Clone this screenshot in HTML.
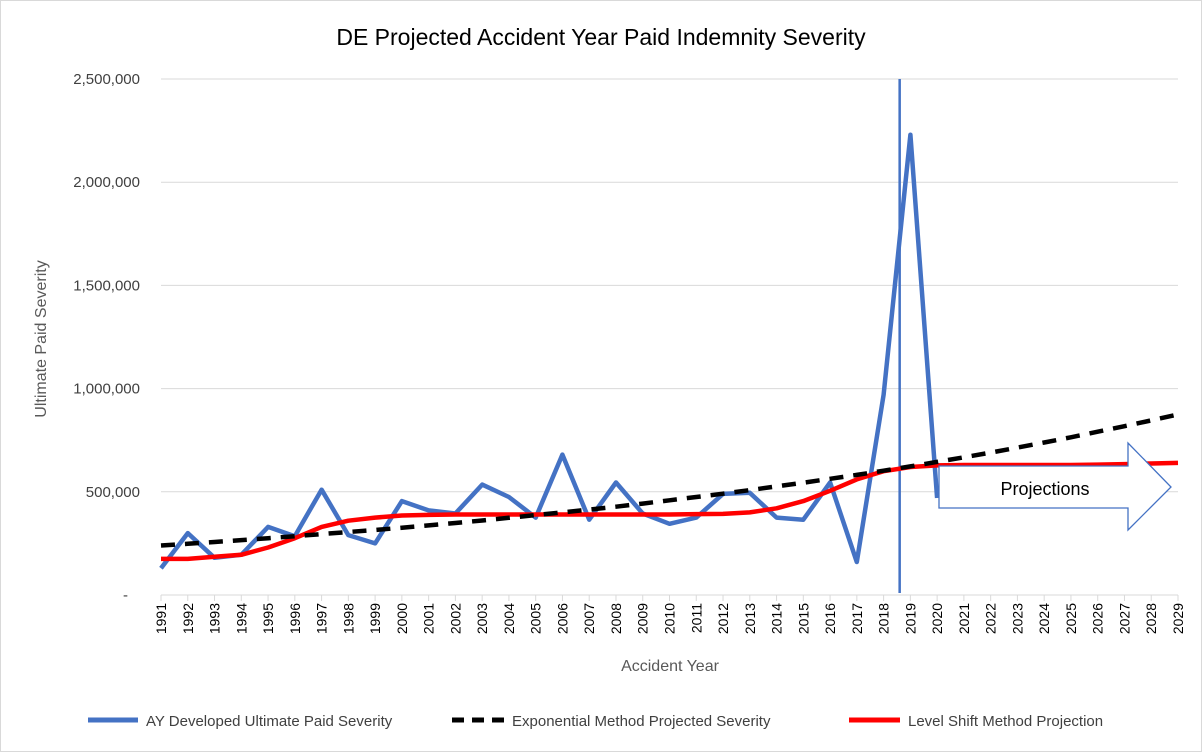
<!DOCTYPE html>
<html><head><meta charset="utf-8"><style>
body{margin:0;background:#fff;}
svg{display:block;font-family:"Liberation Sans",sans-serif;}
</style></head><body>
<svg id="chart" width="1202" height="752">
<rect x="0.5" y="0.5" width="1201" height="751" fill="#fff" stroke="#d9d9d9"/>
<text x="601" y="45" text-anchor="middle" font-size="23" fill="#000">DE Projected Accident Year Paid Indemnity Severity</text>
<g id="grid"></g><g id="axes"></g><g id="series"></g>
<text transform="translate(46,339) rotate(-90)" text-anchor="middle" font-size="16" fill="#595959">Ultimate Paid Severity</text>
<text x="670" y="671" text-anchor="middle" font-size="16" fill="#595959">Accident Year</text>
<g>
<line x1="88" y1="720" x2="138" y2="720" stroke="#4472c4" stroke-width="5"/>
<text x="146" y="726" font-size="15" fill="#404040">AY Developed Ultimate Paid Severity</text>
<line x1="452" y1="720" x2="505" y2="720" stroke="#000" stroke-width="5" stroke-dasharray="12,8"/>
<text x="512" y="726" font-size="15" fill="#404040">Exponential Method Projected Severity</text>
<line x1="849" y1="720" x2="900" y2="720" stroke="#ff0000" stroke-width="5"/>
<text x="908" y="726" font-size="15" fill="#404040">Level Shift Method Projection</text>
</g>
</svg>
<script>
const years=[];for(let y=1991;y<=2029;y++)years.push(y);
const actual=[130,300,180,195,330,285,510,290,250,455,410,395,535,475,375,680,365,545,395,345,375,490,495,375,365,545,160,970,2230,470];
const exponential=[240,248,257,266,275,285,295,305,315,326,337,349,361,374,387,400,414,428,443,459,475,491,508,526,544,563,582,602,623,645,667,690,714,739,764,791,818,846,875];
const levelShift=[175,175,185,195,230,275,330,360,375,385,388,390,390,390,390,390,390,390,390,390,392,393,400,420,455,505,560,600,620,628,630,630,630,630,630,632,634,637,640];
const yTicks=[0,500000,1000000,1500000,2000000,2500000];
const yTickLabels=["-","500,000","1,000,000","1,500,000","2,000,000","2,500,000"];
const divider=2018.6;
const NS="http://www.w3.org/2000/svg";
const x0=161,x1=1178,yb=595,yt=79;
const xs=y=>x0+(y-1991)*(x1-x0)/38;
const ys=v=>yb-v*(yb-yt)/2500000;
function mk(t,a,p){const e=document.createElementNS(NS,t);for(const k in a)e.setAttribute(k,a[k]);p.appendChild(e);return e;}
const grid=document.getElementById('grid'),axes=document.getElementById('axes'),ser=document.getElementById('series');
yTicks.forEach((v,i)=>{
 const l=mk('line',{x1:x0,x2:x1,y1:ys(v),y2:ys(v),stroke:'#d9d9d9','stroke-width':1},grid);
 
 
 const t=mk('text',{x:i===0?128:140,y:ys(v)+5,'text-anchor':'end','font-size':15,fill:'#404040'},axes);
 t.textContent=yTickLabels[i];
 
 
});
years.forEach(y=>{
 const tk=mk('line',{x1:xs(y),x2:xs(y),y1:yb,y2:yb+6,stroke:'#d9d9d9'},axes);
 
 
 const t=mk('text',{transform:`translate(${xs(y)+5},${yb+8}) rotate(-90)`,'text-anchor':'end','font-size':14,fill:'#000'},axes);
 t.textContent=y;
 
 
});
const vl=mk('line',{x1:xs(divider),x2:xs(divider),y1:yt,y2:593,stroke:'#4472c4','stroke-width':2.5},ser);


function path(vals,scale){return vals.map((v,i)=>(i?'L':'M')+xs(years[i]).toFixed(1)+','+ys(v*scale).toFixed(1)).join(' ');}
const b=mk('path',{d:path(actual,1000),fill:'none',stroke:'#4472c4','stroke-width':4.5,'stroke-linejoin':'round'},ser);


const r=mk('path',{d:path(levelShift,1000),fill:'none',stroke:'#ff0000','stroke-width':4.5,'stroke-linejoin':'round'},ser);


const k=mk('path',{d:path(exponential,1000),fill:'none',stroke:'#000','stroke-width':4.5,'stroke-dasharray':'14,10'},ser);


const ar=mk('path',{d:'M939,466 L1128,466 L1128,443 L1171,487 L1128,530 L1128,508 L939,508 Z',fill:'#fff',stroke:'#4472c4','stroke-width':1.3},ser);


const at=mk('text',{x:1045,y:495,'text-anchor':'middle','font-size':18,fill:'#000'},ser);
at.textContent='Projections';


</script>
</body></html>
